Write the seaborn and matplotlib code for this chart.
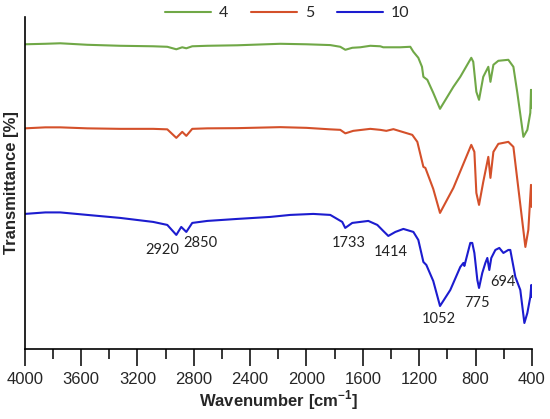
import numpy as np
import pandas as pd
import seaborn as sns
import matplotlib.pyplot as plt
from matplotlib.ticker import MultipleLocator

# wavenumbers [cm-1] and transmittance (arbitrary offset units)
wn_4 = [4000, 3854, 3748, 3556, 3322, 3088, 2988, 2924, 2882, 2853, 2811, 2704, 2491, 2186,
        2000, 1831, 1760, 1724, 1675, 1618, 1547, 1476, 1455, 1334, 1263, 1241, 1206, 1180,
        1170, 1142, 1100, 1052, 957, 908, 830, 816, 794, 775, 745, 709, 694, 673, 638, 567,
        531, 503, 460, 432, 411, 406, 401]
tr_4 = [304.5, 305, 305.5, 304, 303, 302.5, 302, 299.5, 301.5, 300.5, 302.5, 303, 303.5, 305,
        304.5, 303.7, 302, 299, 301, 301.5, 303, 302.5, 301.5, 301.5, 302, 297, 291, 282,
        272, 269, 256, 240, 262, 272, 291, 287, 257, 249, 272, 282, 267, 284, 288, 289,
        282, 256, 212, 219, 236, 259, 241]

wn_5 = [4000, 3854, 3748, 3556, 3322, 3088, 2988, 2924, 2882, 2853, 2811, 2704, 2491, 2186,
        2000, 1831, 1760, 1724, 1668, 1547, 1476, 1433, 1383, 1249, 1213, 1170, 1156, 1100,
        1052, 957, 830, 808, 794, 775, 745, 709, 694, 673, 638, 567, 531, 503, 446, 425,
        406, 401]
tr_5 = [220.5, 221.5, 221.5, 220.5, 220, 220, 219.5, 211, 217, 213, 220, 220.5, 220.7, 221.7,
        221, 219.5, 219, 215.5, 218, 220, 219, 218, 219.7, 214, 207, 182, 181, 160,
        136, 161, 204, 197, 156, 144, 167, 192, 171, 197, 205, 207, 202, 169, 102, 119,
        164, 142]

wn_10 = [4000, 3854, 3748, 3556, 3322, 3088, 2988, 2924, 2889, 2853, 2811, 2704, 2491, 2257,
         2115, 1952, 1831, 1746, 1725, 1675, 1618, 1561, 1497, 1455, 1419, 1369, 1312, 1241,
         1206, 1170, 1149, 1100, 1052, 979, 908, 886, 879, 837, 823, 808, 787, 775, 752,
         730, 716, 702, 688, 659, 631, 602, 567, 553, 517, 482, 453, 432, 411, 404, 400]
tr_10 = [135, 136.5, 136.5, 134, 131, 127, 124, 114, 122, 117, 126, 128, 130, 132,
         134, 135, 134, 127, 121, 126, 127, 128, 124, 118, 113, 117, 120, 117,
         109, 87, 84, 68, 43, 59, 82, 86, 83, 106, 106, 96, 69, 61, 76,
         86, 91, 79, 91, 99, 101, 96, 99, 99, 72, 59, 26, 36, 52, 64, 52]

series = ["4", "5", "10"]
colors = ["#70a847", "#d4502a", "#1c1ccf"]

peak_labels = ["2920", "2850", "1733", "1414", "1052", "775", "694"]
peak_x = [3024, 2754, 1703, 1405, 1057, 787, 602]
peak_y = [99, 106, 106, 97, 30, 46, 67]

df = pd.concat([
    pd.DataFrame({"wn": wn_4, "T": tr_4, "sample": "4"}),
    pd.DataFrame({"wn": wn_5, "T": tr_5, "sample": "5"}),
    pd.DataFrame({"wn": wn_10, "T": tr_10, "sample": "10"}),
])

sns.set_style("ticks")
plt.rcParams["font.family"] = ["Liberation Sans", "DejaVu Sans"]
plt.rcParams["mathtext.fontset"] = "custom"
plt.rcParams["mathtext.rm"] = "Liberation Sans"
plt.rcParams["mathtext.bf"] = "Liberation Sans:bold"

fig = plt.figure(figsize=(5.5, 4.19), dpi=100)
ax = fig.add_axes([0.045, 0.167, 0.922, 0.793])

sns.lineplot(data=df, x="wn", y="T", hue="sample", hue_order=series, palette=colors,
             estimator=None, linewidth=1.5, ax=ax, legend=False)

ax.set_xlim(4000, 400)
ax.set_ylim(0, 332)
ax.xaxis.set_major_locator(MultipleLocator(400))
ax.xaxis.set_minor_locator(MultipleLocator(200))
ax.tick_params(axis="x", which="major", length=12.5, width=1.1, labelsize=12, pad=4, color="black")
ax.tick_params(axis="x", which="minor", length=7, width=1.1, color="black")
ax.set_yticks([])
sns.despine(ax=ax)
for s in ["left", "bottom"]:
    ax.spines[s].set_color("black")
    ax.spines[s].set_linewidth(1.2)

ax.set_xlabel(r"Wavenumber [cm$^{\mathbf{-1}}$]", fontsize=12, fontweight="bold", labelpad=1)
ax.set_ylabel("Transmittance [%]", fontsize=12, fontweight="bold", labelpad=4)

for lab, x, y in zip(peak_labels, peak_x, peak_y):
    ax.text(x, y, lab, ha="center", va="center", fontsize=10.5, family=["Lato", "DejaVu Sans"],
            color="#222222")

handles = [plt.Line2D([], [], color=c, lw=1.5) for c in colors]
fig.legend(handles, series, loc="center", bbox_to_anchor=(0.522, 0.968), ncol=3, frameon=False,
           handlelength=2.9, handletextpad=0.5, columnspacing=1.4,
           prop={"family": ["Lato", "DejaVu Sans"], "size": 11.5})

fig.savefig("out.png", dpi=100)
